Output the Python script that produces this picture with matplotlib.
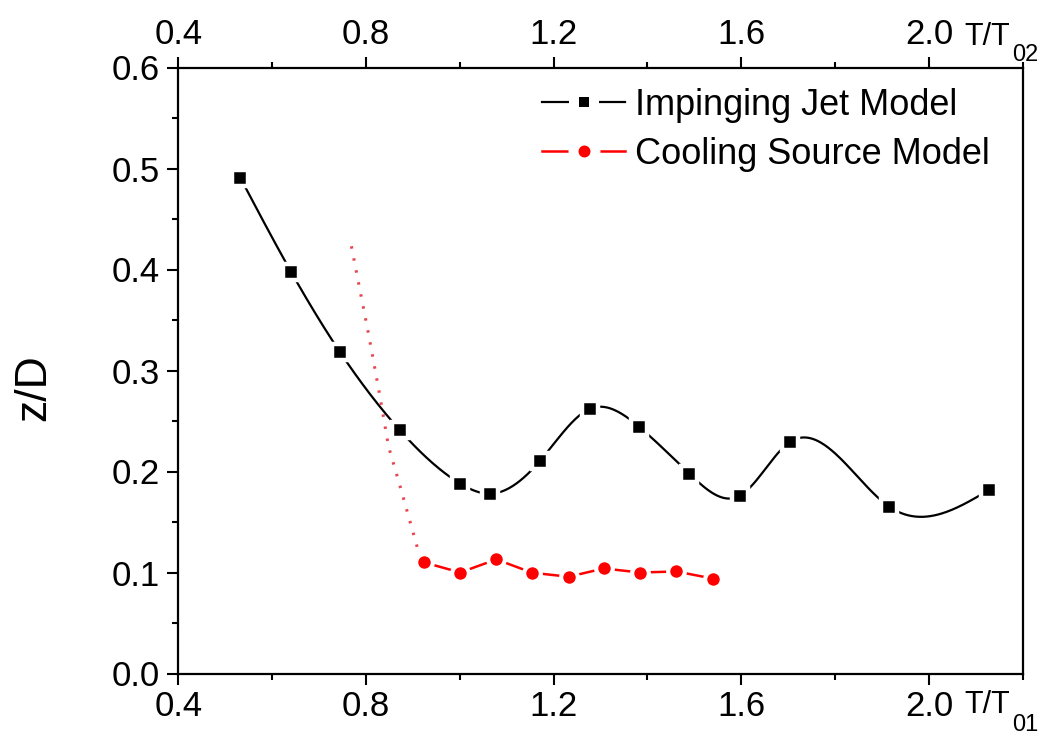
import matplotlib
matplotlib.use("Agg")
import matplotlib.pyplot as plt
import numpy as np
from matplotlib.lines import Line2D
from matplotlib.ticker import MultipleLocator

# impinging jet model (black squares)
jet_x = [0.532, 0.640, 0.745, 0.872, 1.001, 1.065, 1.170, 1.277, 1.383, 1.489, 1.597, 1.703, 1.916, 2.129]
jet_z = [0.491, 0.398, 0.318, 0.241, 0.188, 0.178, 0.210, 0.262, 0.244, 0.198, 0.176, 0.229, 0.165, 0.182]

# cooling source model (red circles)
cool_x = [0.924, 1.001, 1.078, 1.154, 1.232, 1.307, 1.384, 1.462, 1.539]
cool_z = [0.110, 0.100, 0.113, 0.0998, 0.0958, 0.104, 0.100, 0.101, 0.094]

# dotted red extrapolation
trend_x = [0.769, 0.806, 0.830, 0.848, 0.873, 0.910]
trend_z = [0.423, 0.335, 0.274, 0.225, 0.185, 0.124]

x_ticks = [0.4, 0.8, 1.2, 1.6, 2.0]
y_ticks = [0.0, 0.1, 0.2, 0.3, 0.4, 0.5, 0.6]
labels = ["Impinging Jet Model", "Cooling Source Model"]

W, H = 1052, 738


def natural_spline(x, y, n=600):
    x = np.asarray(x, float)
    y = np.asarray(y, float)
    k = len(x)
    h = np.diff(x)
    A = np.zeros((k, k))
    r = np.zeros(k)
    A[0, 0] = A[-1, -1] = 1.0
    for i in range(1, k - 1):
        A[i, i - 1] = h[i - 1]
        A[i, i] = 2 * (h[i - 1] + h[i])
        A[i, i + 1] = h[i]
        r[i] = 6 * ((y[i + 1] - y[i]) / h[i] - (y[i] - y[i - 1]) / h[i - 1])
    M = np.linalg.solve(A, r)
    t = np.linspace(x[0], x[-1], n)
    idx = np.clip(np.searchsorted(x, t) - 1, 0, k - 2)
    x0, x1, hh = x[idx], x[idx + 1], h[idx]
    s = (M[idx] * (x1 - t) ** 3 / (6 * hh) + M[idx + 1] * (t - x0) ** 3 / (6 * hh)
         + (y[idx] / hh - M[idx] * hh / 6) * (x1 - t)
         + (y[idx + 1] / hh - M[idx + 1] * hh / 6) * (t - x0))
    return t, s


plt.rcParams["font.family"] = ["Liberation Sans", "DejaVu Sans"]

fig = plt.figure(figsize=(W / 100, H / 100), dpi=100)
ax = fig.add_axes([178.3 / W, 1 - 673.5 / H, 844.4 / W, 606 / H])

sx, sz = natural_spline(jet_x, jet_z)
ax.plot(sx, sz, color="black", lw=1.6, zorder=2)
ax.plot(jet_x, jet_z, ls="none", marker="s", ms=11, mew=3.2, mfc="black", mec="white", zorder=4)

ax.plot(trend_x, trend_z, color="#e8464e", lw=2.2, ls=(0, (0.8, 3.2)), zorder=1)
ax.plot(cool_x, cool_z, color="red", lw=1.8, marker="o", ms=12, mew=3.0, mfc="red", mec="white", zorder=3)

h1 = Line2D([], [], color="black", lw=1.6, marker="s", ms=14.4, mew=7.2, mfc="black", mec="white")
h2 = Line2D([], [], color="red", lw=1.8, marker="o", ms=15.8, mew=7.2, mfc="red", mec="white")
ax.legend([h1, h2], labels, loc="upper left", bbox_to_anchor=(542 / W, 1 - 88 / H),
          bbox_transform=fig.transFigure, frameon=False, fontsize=26,
          handlelength=2.3, handletextpad=0.28, labelspacing=0.38,
          borderaxespad=0, borderpad=0)

ax.set_xlim(0.4, 2.2)
ax.set_ylim(0.0, 0.6)
ax.set_xticks(x_ticks)
ax.set_yticks(y_ticks)
ax.xaxis.set_minor_locator(MultipleLocator(0.2))
ax.yaxis.set_minor_locator(MultipleLocator(0.05))
ax.set_xticklabels([f"{v:.1f}" for v in x_ticks], fontsize=25)
ax.set_yticklabels([f"{v:.1f}" for v in y_ticks], fontsize=25)
ax.tick_params(which="both", direction="out", width=1.5, top=True, right=False,
               labeltop=True, colors="black")
ax.tick_params(axis="x", which="major", length=8, pad=4)
ax.tick_params(axis="x", which="minor", length=4)
ax.tick_params(axis="y", which="major", length=8, pad=5)
ax.tick_params(axis="y", which="minor", length=4)
for sp in ax.spines.values():
    sp.set_linewidth(1.6)

fig.text(34 / W, 1 - 388 / H, "z/D", rotation=90, ha="center", va="center", fontsize=32)

# axis names written after the last tick label
fig.text(964 / W, 1 - 713 / H, "T/T", ha="left", va="baseline", fontsize=22)
fig.text(1012 / W, 1 - 731 / H, "01", ha="left", va="baseline", fontsize=17)
fig.text(964 / W, 1 - 45 / H, "T/T", ha="left", va="baseline", fontsize=22)
fig.text(1012 / W, 1 - 61 / H, "02", ha="left", va="baseline", fontsize=17)

fig.savefig("out.png", dpi=100)
